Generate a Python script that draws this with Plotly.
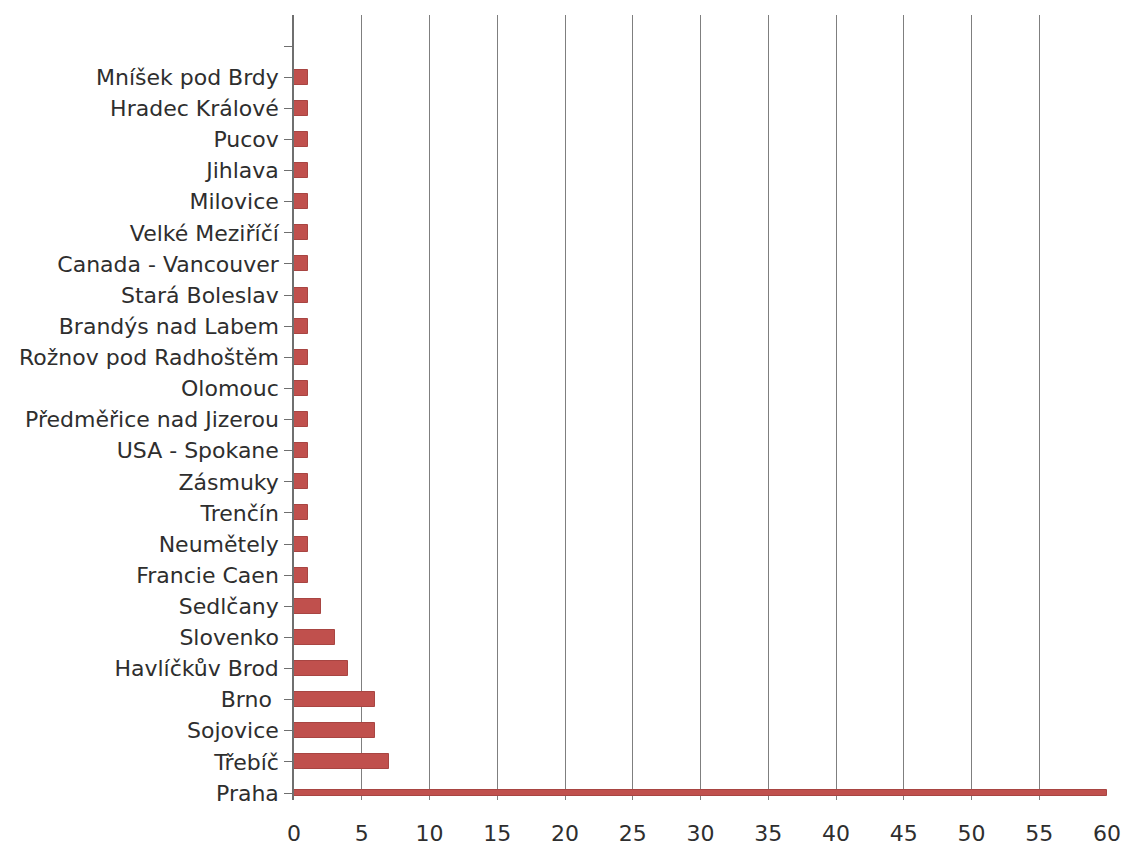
import plotly.graph_objects as go

# Places, bottom to top, and how many times each appears
places = [
    "Praha", "Třebíč", "Sojovice", "Brno\u00a0", "Havlíčkův Brod", "Slovenko",
    "Sedlčany", "Francie Caen", "Neumětely", "Trenčín", "Zásmuky",
    "USA - Spokane", "Předměřice nad Jizerou", "Olomouc",
    "Rožnov pod Radhoštěm", "Brandýs nad Labem", "Stará Boleslav",
    "Canada - Vancouver", "Velké Meziříčí", "Milovice", "Jihlava", "Pucov",
    "Hradec Králové", "Mníšek pod Brdy",
]
counts = [60, 7, 6, 6, 4, 3, 2, 1, 1, 1, 1, 1, 1, 1, 1, 1, 1, 1, 1, 1, 1, 1, 1, 1]

x_ticks = list(range(0, 61, 5))

positions = list(range(len(places)))
bar_widths = [0.22] + [0.48] * (len(places) - 1)

label_font = dict(family="DejaVu Sans, Open Sans, sans-serif", size=22, color="#2e2e2e")

fig = go.Figure()
fig.add_trace(go.Bar(
    x=counts,
    y=positions,
    orientation="h",
    width=bar_widths,
    marker=dict(color="#C0504D", line=dict(color="#A84542", width=1)),
    hoverinfo="x+text",
    text=places,
    textposition="none",
))

fig.update_layout(
    width=1128,
    height=853,
    margin=dict(l=294, r=21, t=15, b=53, autoexpand=False),
    paper_bgcolor="white",
    plot_bgcolor="white",
    showlegend=False,
    font=label_font,
    bargap=0,
)

fig.update_xaxes(
    range=[0, 60],
    tickvals=x_ticks,
    ticktext=[str(v) for v in x_ticks],
    showgrid=True,
    gridcolor="#7f7f7f",
    gridwidth=1,
    zeroline=False,
    showline=False,
    ticks="",
    ticklabelstandoff=18,
    tickfont=label_font,
    automargin=False,
)

fig.update_yaxes(
    range=[-0.225, len(places) + 1.0],
    tickvals=positions + [len(places)],
    ticktext=places + [""],
    showgrid=False,
    zeroline=False,
    showline=True,
    linecolor="#6f6f6f",
    linewidth=1.5,
    ticks="outside",
    ticklen=8,
    tickcolor="#6f6f6f",
    tickwidth=1,
    ticklabelstandoff=1,
    tickfont=label_font,
    automargin=False,
)

fig.write_html("out.html")
